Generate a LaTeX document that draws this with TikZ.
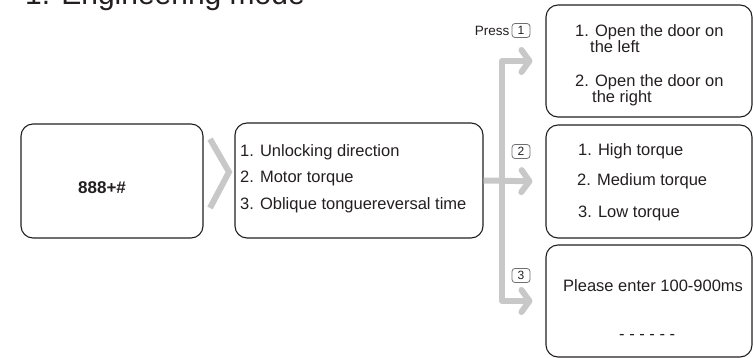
\documentclass[tikz,border=0pt]{standalone}
\usepackage{fontspec}
\setmainfont{Liberation Sans}
\usetikzlibrary{arrows.meta, positioning}

\definecolor{ink}{HTML}{231F20}
\definecolor{pathgray}{HTML}{C8C8C8}
\definecolor{keygray}{HTML}{6D6E71}

\begin{document}
\begin{tikzpicture}[x=1pt, y=-1pt,
    panel/.style={draw=ink, line width=1.1pt, rounded corners=12pt, inner sep=0},
    item/.style={anchor=base west, inner sep=0, text=ink, font=\fontsize{16.5}{18}\selectfont},
    keybox/.style={draw=keygray, line width=0.8pt, rounded corners=3pt, minimum width=18pt,
        minimum height=14pt, inner sep=0, text=ink, font=\fontsize{12}{13}\selectfont},
    chevron/.style={draw=pathgray, line width=6pt},
    branch/.style={draw=pathgray, line width=6pt, line join=round, shorten >=13pt,
        -{Straight Barb[length=8pt, width=22pt, round]}}]

    \useasboundingbox (0,0) rectangle (753,358);

    % Title
    \node[anchor=base west, inner sep=0, text=ink, font=\fontsize{30}{32}\selectfont]
        (title) at (25,5) {1. Engineering mode};

    % Entry code
    \node[panel, minimum width=182pt, minimum height=114pt] (start) at (112,181) {};
    \node[anchor=base west, inner sep=0, text=ink, font=\fontsize{17}{18}\selectfont\bfseries]
        (code) at (78,194) {888+\#};

    \draw[chevron] (210,139) -- (229,172) -- (210,208);

    % Main menu
    \node[panel, minimum width=248pt, minimum height=115pt] (menu) at (359,180.5) {};
    \node[item] (m1) at (240,157) {1. Unlocking direction};
    \node[item] (m2) at (240,183) {2. Motor torque};
    \node[item] (m3) at (240,210) {3. Oblique tonguereversal time};

    % Sub menus
    \node[panel, minimum width=206pt, minimum height=112pt] (opt1) at (649,61) {};
    \node[item] (a1) at (575,37) {1. Open the door on};
    \node[item] (a2) at (590,53) {the left};
    \node[item] (a3) at (575,87) {2. Open the door on};
    \node[item] (a4) at (592,103) {the right};

    \node[panel, minimum width=206pt, minimum height=113pt] (opt2) at (649,181.5) {};
    \node[item] (b1) at (578,156) {1. High torque};
    \node[item] (b2) at (577,186) {2. Medium torque};
    \node[item] (b3) at (578,217.5) {3. Low torque};

    \node[panel, minimum width=206pt, minimum height=112pt] (opt3) at (649,301) {};
    \node[item] (c1) at (563,292) {Please enter 100-900ms};
    \node[item] (c2) at (619,340) {- - - - - -};

    % Keys
    \node[keybox] (k1) at (521,30.5) {1};
    \node[keybox] (k2) at (521,151.5) {2};
    \node[keybox] (k3) at (521,275.5) {3};
    \node[left=2pt of k1, inner sep=0, text=ink, font=\fontsize{13.5}{14}\selectfont] (press) {Press};

    % Branches
    \coordinate (fork) at (502,181);
    \draw[branch] (menu.east) -- (opt2.west);
    \draw[branch] (fork) |- (opt1.west);
    \draw[branch] (fork) |- (opt3.west);

\end{tikzpicture}
\end{document}
